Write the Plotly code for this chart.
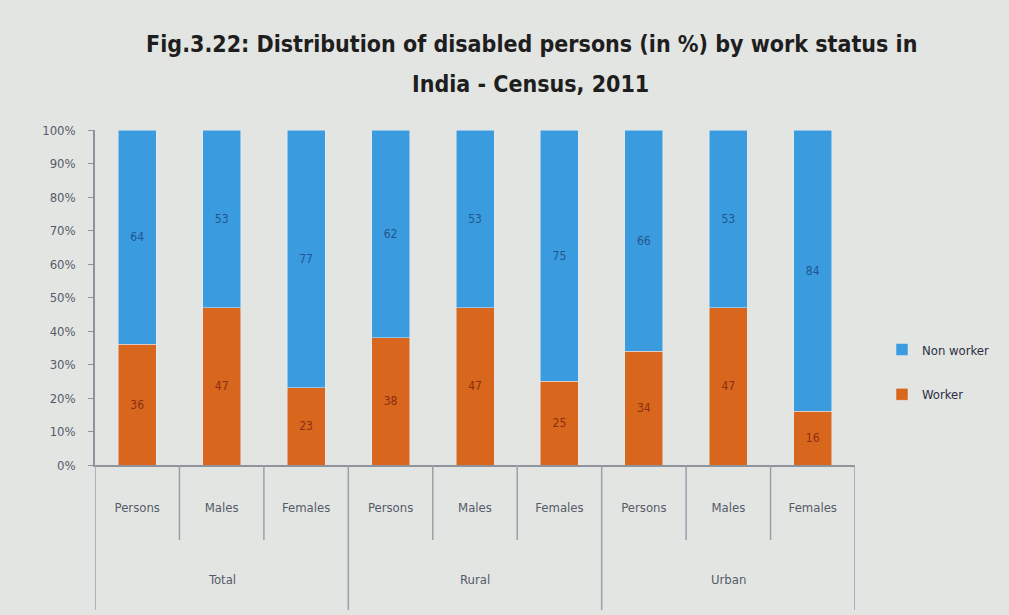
import plotly.graph_objects as go

areas = ["Total", "Rural", "Urban"]
groups = ["Persons", "Males", "Females"] * 3
worker = [36, 47, 23, 38, 47, 25, 34, 47, 16]
non_worker = [64, 53, 77, 62, 53, 75, 66, 53, 84]
y_ticks = list(range(0, 101, 10))
title_lines = ["Fig.3.22: Distribution of disabled persons (in %) by work status in",
               "India - Census, 2011"]

idx = list(range(len(groups)))
n_per = len(groups) // len(areas)

W, H = 1009, 615
M_L, M_R, M_T, M_B = 95, 154, 130, 150
plot_h = H - M_T - M_B
plot_w = W - M_L - M_R

bg = "#e3e5e2"
line_col = "#9aa0a8"
FONT = "DejaVu Sans Condensed, Lato, Open Sans"

fig = go.Figure()
fig.add_trace(go.Bar(
    x=idx, y=worker, name="Worker", legendgroup="w", legendrank=2,
    marker=dict(color="#d8661c"), width=0.45,
    text=[str(v) for v in worker], textposition="inside", insidetextanchor="middle",
    textfont=dict(color="#8a2f12", size=12, family=FONT),
))
fig.add_trace(go.Bar(
    x=idx, y=non_worker, name="Non worker", legendgroup="nw", legendrank=1,
    marker=dict(color="#3a9cde"), width=0.45,
    text=[str(v) for v in non_worker], textposition="inside", insidetextanchor="middle",
    textfont=dict(color="#22558f", size=12, family=FONT),
))

shapes = []
for i in range(len(groups) + 1):
    boundary = i - 0.5
    is_group = (i % n_per == 0)
    shapes.append(dict(
        type="line", xref="x", yref="paper",
        x0=boundary, x1=boundary, y0=0, y1=-0.433 if is_group else -0.224,
        line=dict(color=line_col, width=1.5),
    ))

annotations = []
for g, name in enumerate(areas):
    center = sum(idx[g * n_per:(g + 1) * n_per]) / n_per
    annotations.append(dict(
        x=center, y=-0.343, xref="x", yref="paper", text=name, showarrow=False,
        xanchor="center", yanchor="middle",
        font=dict(family=FONT, size=13, color="#555b6a"),
    ))
annotations.append(dict(
    x=(530 - M_L) / plot_w, y=(H - M_B - 84) / plot_h, xref="paper", yref="paper",
    text=f"<b>{title_lines[1]}</b>", showarrow=False,
    xanchor="center", yanchor="middle",
    font=dict(family=FONT, size=23, color="#1e1e1e"),
))

fig.update_layout(
    barmode="stack",
    width=W, height=H,
    paper_bgcolor=bg, plot_bgcolor=bg,
    margin=dict(l=M_L, r=M_R, t=M_T, b=M_B),
    shapes=shapes, annotations=annotations,
    title=dict(
        text=f"<b>{title_lines[0]}</b>",
        x=0.527, xanchor="center", y=1 - 44 / H, yanchor="middle",
        font=dict(family=FONT, size=23, color="#1e1e1e"),
    ),
    legend=dict(
        xref="container", yref="container",
        x=882 / W, y=1 - 372 / H, xanchor="left", yanchor="middle",
        traceorder="grouped", bgcolor="rgba(0,0,0,0)",
        font=dict(family=FONT, size=13, color="#2a2f45"),
        itemwidth=30, tracegroupgap=25,
    ),
    xaxis=dict(
        range=[-0.5, len(groups) - 0.5],
        tickvals=idx, ticktext=groups,
        showline=True, linecolor="#8e939c", linewidth=1.5,
        ticks="", ticklabelstandoff=30,
        tickfont=dict(family=FONT, size=13, color="#555b6a"),
        showgrid=False, zeroline=False,
    ),
    yaxis=dict(
        range=[0, 100], tickvals=y_ticks, ticktext=[f"{v}%" for v in y_ticks],
        showline=True, linecolor="#8e939c", linewidth=1.5,
        ticks="outside", tickcolor="#8e939c", ticklen=5,
        ticklabelstandoff=10,
        tickfont=dict(family=FONT, size=13, color="#555b6a"),
        showgrid=False, zeroline=False,
    ),
    font=dict(family=FONT),
)

fig.write_html("out.html", config={"displayModeBar": False},
               post_script="document.body.style.margin='0';")
